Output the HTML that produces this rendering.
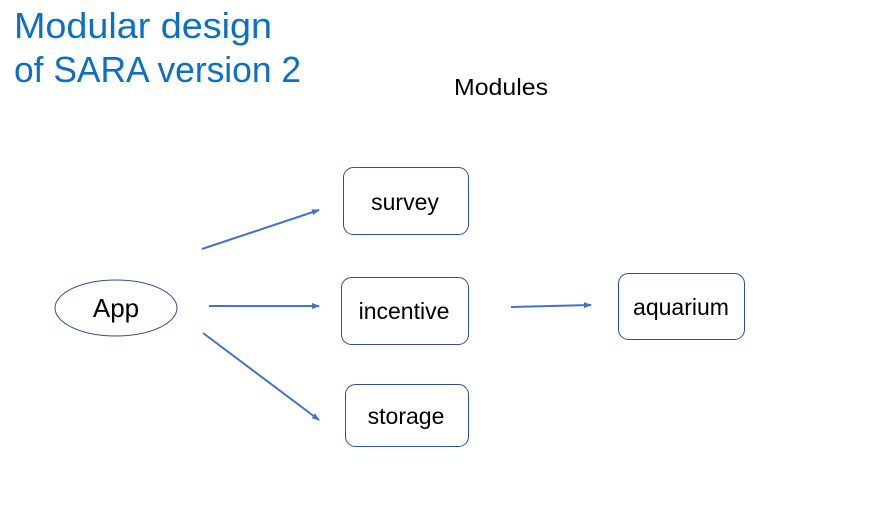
<!DOCTYPE html>
<html><head><style>
body{margin:0;background:#fff;}
svg{display:block;}
text{font-family:"Liberation Sans",sans-serif;}
</style></head><body>
<svg width="873" height="510" viewBox="0 0 873 510" xmlns="http://www.w3.org/2000/svg">
<defs><marker id="a" markerWidth="8" markerHeight="8" refX="7" refY="4" orient="auto" markerUnits="userSpaceOnUse"><path d="M0,1 L8,4 L0,7 z" fill="#4472C4"/></marker></defs>
<text x="14" y="38" font-size="36" fill="#0E6FC1" textLength="258" lengthAdjust="spacingAndGlyphs">Modular design</text>
<text x="14" y="82" font-size="36" fill="#0E6FC1" textLength="287" lengthAdjust="spacingAndGlyphs">of SARA version 2</text>
<text x="454" y="95" font-size="23" fill="#000" textLength="94" lengthAdjust="spacingAndGlyphs">Modules</text>
<g fill="#fff" stroke="#2F4F8F" stroke-width="1">
<ellipse cx="116" cy="308" rx="61" ry="28"/>
<rect x="343.5" y="167.5" width="125" height="67" rx="10"/>
<rect x="341.5" y="277.5" width="127" height="67" rx="10"/>
<rect x="345.5" y="384.5" width="123" height="62" rx="10"/>
<rect x="618.5" y="273.5" width="126" height="66" rx="10"/>
</g>
<g font-size="23" fill="#000" text-anchor="middle">
<text x="116" y="317" font-size="26">App</text>
<text x="405" y="210">survey</text>
<text x="404" y="319">incentive</text>
<text x="406" y="424">storage</text>
<text x="681" y="315">aquarium</text>
</g>
<g stroke="#4472C4" stroke-width="2" marker-end="url(#a)">
<line x1="202" y1="249" x2="319" y2="210"/>
<line x1="209" y1="306" x2="319" y2="306"/>
<line x1="203" y1="333" x2="319" y2="420"/>
<line x1="511" y1="307" x2="591" y2="305"/>
</g>
</svg>
</body></html>
